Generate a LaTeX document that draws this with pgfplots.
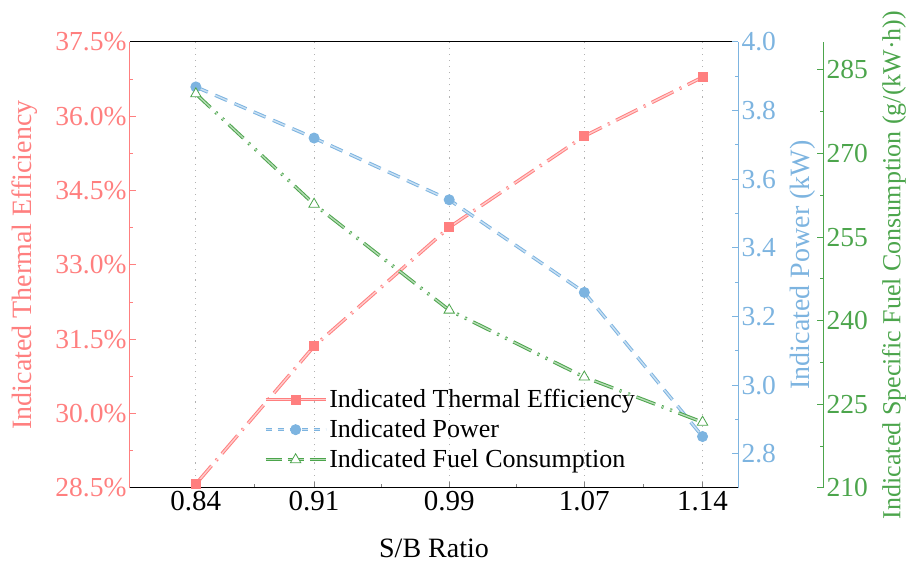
\documentclass[border=0pt]{standalone}
\usepackage{pgfplots}
\pgfplotsset{compat=1.18}
\usepackage{fontspec}
\setmainfont{Liberation Serif}
\definecolor{cred}{HTML}{FF7F7F}
\definecolor{cblue}{HTML}{7DB4E0}
\definecolor{cgreen}{HTML}{4CA54C}
\begin{document}
\begin{tikzpicture}
\pgfplotsset{
  base/.style={scale only axis, width=608pt, height=446pt, xmin=0.801, xmax=1.161,
    tick align=inside, major tick length=6pt, minor tick length=3.5pt,
    /pgf/number format/assume math mode=true,
    tick label style={font=\fontsize{27.5}{32}\selectfont},
    label style={font=\fontsize{28}{33}\selectfont},
    axis line style={line width=1pt}, tick style={line width=1pt}},
  redline/.style={cred, line width=1pt, double=cred!40!white, double distance=1.4pt,
    dash pattern=on 24pt off 7pt on 2pt off 7pt,
    mark=square*, mark size=4.5pt, mark options={solid, fill=cred, draw=cred}},
  blueline/.style={cblue, line width=1pt, double=cblue!40!white, double distance=1.4pt,
    dash pattern=on 13pt off 8pt,
    mark=*, mark size=5pt, mark options={solid, fill=cblue, draw=cblue}},
  greenline/.style={cgreen, line width=1pt, double=cgreen!40!white, double distance=1.4pt,
    dash pattern=on 20pt off 7pt on 2pt off 7pt on 2pt off 7pt,
    mark=triangle*, mark size=6pt, mark options={solid, fill=white, draw=cgreen, line width=0.8pt}},
}
% main axis: thermal efficiency
\begin{axis}[base, name=main,
  ymin=28.5, ymax=37.5, ytick={28.5,30,31.5,33,34.5,36,37.5}, minor y tick num=1,
  xtick={0.84,0.91,0.99,1.07,1.14}, minor xtick={0.875,0.95,1.03,1.105},
  xticklabels={0.84,0.91,0.99,1.07,1.14},
  xtick pos=bottom, ytick pos=left,
  separate axis lines,
  every outer x axis line/.append style={black},
  every outer y axis line/.append style={cred},
  every y tick/.append style={cred},
  yticklabel style={text=cred},
  yticklabel={\pgfmathprintnumber[fixed,fixed zerofill,precision=1]{\tick}\%},
  xticklabel style={font=\fontsize{29}{34}\selectfont},
  xmajorgrids, grid style={gray!60, line width=1.1pt, dash pattern=on 1.1pt off 5pt},
  xlabel={S/B Ratio}, ylabel={Indicated Thermal Efficiency},
  ylabel style={text=cred, at={(axis description cs:0,0.5)}, anchor=center, yshift=105pt},
  xlabel style={at={(axis description cs:0.5,0)}, anchor=center, yshift=-60pt},
]
\addplot[redline] coordinates {(0.84,28.58)(0.91,31.36)(0.99,33.76)(1.07,35.60)(1.14,36.79)};
\end{axis}
% power axis
\begin{axis}[base,
  ymin=2.7, ymax=4.0, ytick={2.8,3.0,3.2,3.4,3.6,3.8,4.0}, minor y tick num=1,
  axis y line*=right, axis x line=none,
  every outer y axis line/.append style={cblue},
  y axis line style={cblue},
  every y tick/.append style={cblue},
  yticklabel style={text=cblue, /pgf/number format/fixed, /pgf/number format/fixed zerofill, /pgf/number format/precision=1},
  ylabel={Indicated Power (kW)},
  ylabel style={text=cblue, at={(axis description cs:1,0.5)}, anchor=center, yshift=-65pt},
]
\addplot[blueline] coordinates {(0.84,3.869)(0.91,3.72)(0.99,3.54)(1.07,3.27)(1.14,2.85)};
\end{axis}
% fuel consumption data + legend
\begin{axis}[base, hide axis, ymin=210, ymax=290,
  legend style={at={(0.215,0.23)}, anchor=north west, draw=none, fill=none,
    font=\fontsize{26}{30}\selectfont, row sep=6.5pt},
  legend cell align=left,
  legend image code/.code={\draw[mark repeat=2,mark phase=2,#1] plot coordinates {(0pt,0pt)(30pt,0pt)(60pt,0pt)};},
]
\addplot[greenline, forget plot] coordinates {(0.84,280.7)(0.91,260.9)(0.99,241.9)(1.07,229.9)(1.14,221.8)};
\addlegendimage{cred, line width=1pt, double=cred!40!white, double distance=1.4pt, solid, mark=square*, mark size=4.5pt, mark options={fill=cred, draw=cred}}
\addlegendentry{Indicated Thermal Efficiency}
\addlegendimage{cblue, line width=1pt, double=cblue!40!white, double distance=1.4pt, dash pattern=on 6pt off 6pt, mark=*, mark size=5pt, mark options={solid, fill=cblue, draw=cblue}}
\addlegendentry{Indicated Power}
\addlegendimage{cgreen, line width=1pt, double=cgreen!40!white, double distance=1.4pt, dash pattern=on 16pt off 6pt, mark=triangle*, mark size=6pt, mark options={solid, fill=white, draw=cgreen, line width=0.8pt}}
\addlegendentry{Indicated Fuel Consumption}
\end{axis}
% fuel consumption axis, offset
\begin{axis}[base, at={(85pt,0)},
  ymin=210, ymax=290, ytick={210,225,240,255,270,285}, minor y tick num=1,
  axis y line*=right, axis x line=none,
  every outer y axis line/.append style={cgreen},
  y axis line style={cgreen},
  every y tick/.append style={cgreen},
  yticklabel style={text=cgreen},
  ylabel={Indicated Specific Fuel Consumption (g/(kW·h))},
  ylabel style={text=cgreen, at={(axis description cs:1,0.5)}, anchor=center, yshift=-71pt, font=\fontsize{26}{30}\selectfont},
]
\addplot[draw=none, forget plot] coordinates {(0.9,250)};
\end{axis}
\pgfresetboundingbox
\path (main.south west) ++(-130pt,-79pt) rectangle ([shift={(173pt,42pt)}]main.north east);
\end{tikzpicture}
\end{document}
